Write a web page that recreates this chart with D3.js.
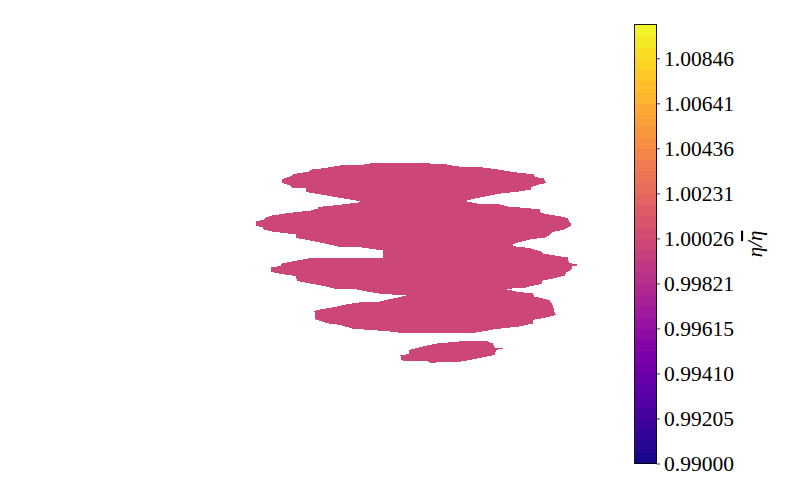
<!DOCTYPE html>
<html><head><meta charset="utf-8">
<script src="https://cdn.jsdelivr.net/npm/d3@7"></script>
<style>body{margin:0;background:#fff}svg{display:block}</style>
</head><body>
<svg id="c" width="800" height="500"></svg>
<script>
// ---- data ----
const vmin = 0.99, vmax = 1.01;
const nLevels = 40;                     // contour levels linspace(vmin, vmax, 40)
const tickLabels = ["0.99000","0.99205","0.99410","0.99615","0.99821","1.00026","1.00231","1.00436","1.00641","1.00846"];
const tickValues = [0.99, 0.992051, 0.994103, 0.996154, 0.998205, 1.000256, 1.002308, 1.004359, 1.006410, 1.008462];
const regionValue = 1.0;                // band [0.99974, 1.00026]
// outline of the filled region (grid units, x right, y down)
const mainOutline = [
[182,119],[191,116],[193.5,114],[208.5,111.5],[212,109.5],[225,108],[240,105.5],[263.5,104.5],[270,103.5],[294,102.5],[316,103],[344,104],[352.5,105.5],[359,106.5],[382.5,107.5],[391,108.5],[404,110.5],[412.5,112],[426,113.5],[434,114.5],[435,117],[444,118.5],[446,123],
[439.5,124.5],[431,127],[431,129.5],[419,131.5],[401,133.5],[389.5,135.5],[377.5,138],[364.5,141],
[377.5,143.5],[399.5,144.5],[407.5,146.5],[426,148],[439.5,149.5],[441,153],[449.5,154.5],[461,156.5],[467.5,158],[469.5,161.5],[471.5,164.5],[469.5,166.5],[464.5,169.5],[452.5,172],[449.5,175.5],[444.5,177.5],[429.5,179.5],[416,183],[412,185],
[416,186.5],[429.5,188],[441,191.5],[442.5,193.5],[454.5,195.5],[467.5,197.5],[469,203],[479,205],[472.5,206.5],[471,210],[466,212.5],[464.5,215.5],[452.5,218.5],[442.5,220.5],[442,224],[431,226],[426,227.5],[405,229],
[416,231.5],[432.5,233.5],[434.5,236.5],[449.5,240],[452.5,245],[454.5,251.5],[456,255],[446,257.5],[432.5,260],[432.5,263.5],[419.5,266.5],[396,269],[382.5,271.5],[376,272.5],
[317,273.5],[298.5,272.5],[285.5,271],[263.5,269.5],[252,268.5],[240.5,265],[228.5,263.5],[222,261.5],[215.5,259.5],[214.5,251.5],
[217,250],[232,247.5],[243.5,245],[252,243.5],[258.5,242.5],[280.5,241.5],[285.5,240],[298.5,237.5],[308,235],
[292,234.5],[278.5,233.5],[267,231.5],[257,229.5],[233.5,228.5],[223.5,226],[210.5,223.5],[197,221],[195.5,216],[182,214],[171,212],
[171,207.5],[180.5,206],[182,203.5],[200,200],[205.5,199],[210.5,198],[283,198],
[283,190.5],[272,189],[262,187.5],[238,186.5],[227,184],[217,182],[205.5,179.5],[195.5,178],[195.5,174.5],[183.5,173],[172,171.5],[163.5,169.5],[162.5,167.5],[156,165.5],
[156,161.5],[163.5,159.5],[166,157.5],[172,155.5],[185.5,153.5],[197,152],[210.5,150.5],[218,148.5],[218.5,147],[242,144.5],[262,142],
[255.5,140.5],[243.5,138.5],[232,136.5],[218.5,134],[205.5,132],[205.5,128.5],[191.5,127.5],[189.5,125.5],[182,123]
];
const islandOutline = [
[300.5,295.5],[300.5,300],[305.5,301],[327.5,301.5],[332.5,303.5],[339.5,301.5],[361,301.5],[369.5,300],[382.5,297.5],[394.5,295],[396,290],[403,288.5],[394.5,287.5],[392.5,283.5],[387.5,281.5],[364.5,281],[337.5,283.5],[324.5,286],[315.5,288.5],[308.5,290],[308.5,294]
];

// ---- layout ----
const svg = d3.select("#c");
const x = d3.scaleLinear().domain([0, 510]).range([100, 610]);
const y = d3.scaleLinear().domain([0, 385]).range([60, 445]);
const color = v => d3.interpolatePlasma((v - vmin) / (vmax - vmin));

const line = d3.line().x(d => x(d[0])).y(d => y(d[1]));
const g = svg.append("g");
[mainOutline, islandOutline].forEach(o => {
  g.append("path").attr("d", line(o) + "Z")
   .attr("fill", color(regionValue))
   .attr("stroke", "none")
   .attr("shape-rendering", "crispEdges");
});

// ---- colorbar ----
const cbX = 634.5, cbW = 22;
const cy = d3.scaleLinear().domain([vmin, vmax]).range([463.5, 24.5]);
const levels = d3.range(nLevels).map(i => vmin + i * (vmax - vmin) / (nLevels - 1));
const cb = svg.append("g");
cb.selectAll("rect.band").data(levels.slice(0, -1)).join("rect")
  .attr("class", "band")
  .attr("x", cbX).attr("width", cbW)
  .attr("y", (d, i) => cy(levels[i + 1]))
  .attr("height", (d, i) => cy(levels[i]) - cy(levels[i + 1]) + 0.5)
  .attr("fill", (d, i) => color((levels[i] + levels[i + 1]) / 2))
  .attr("shape-rendering", "crispEdges");
cb.append("rect").attr("x", cbX).attr("y", cy(vmax)).attr("width", cbW)
  .attr("height", cy(vmin) - cy(vmax))
  .attr("fill", "none").attr("stroke", "#000").attr("stroke-width", 0.9);

const axis = d3.axisRight(cy).tickValues(tickValues)
  .tickFormat((d, i) => tickLabels[i]).tickSize(3.5).tickPadding(4);
const ax = svg.append("g").attr("transform", `translate(${cbX + cbW},0)`).call(axis);
ax.select(".domain").remove();
ax.selectAll(".tick line").attr("stroke", "#000").attr("stroke-width", 0.8);
ax.selectAll(".tick text").attr("fill", "#000")
  .style("font-family", "'Liberation Serif', 'DejaVu Serif', serif")
  .style("font-size", "21.5px");

const lab = svg.append("text")
  .attr("transform", `translate(762,${(cy(vmin) + cy(vmax)) / 2}) rotate(-90)`)
  .attr("text-anchor", "middle")
  .style("font-family", "'Liberation Serif', 'DejaVu Serif', serif")
  .style("font-size", "21px").style("font-style", "italic");
lab.append("tspan").text("η/");
lab.append("tspan").style("text-decoration", "overline").text("η");
</script>
</body></html>
